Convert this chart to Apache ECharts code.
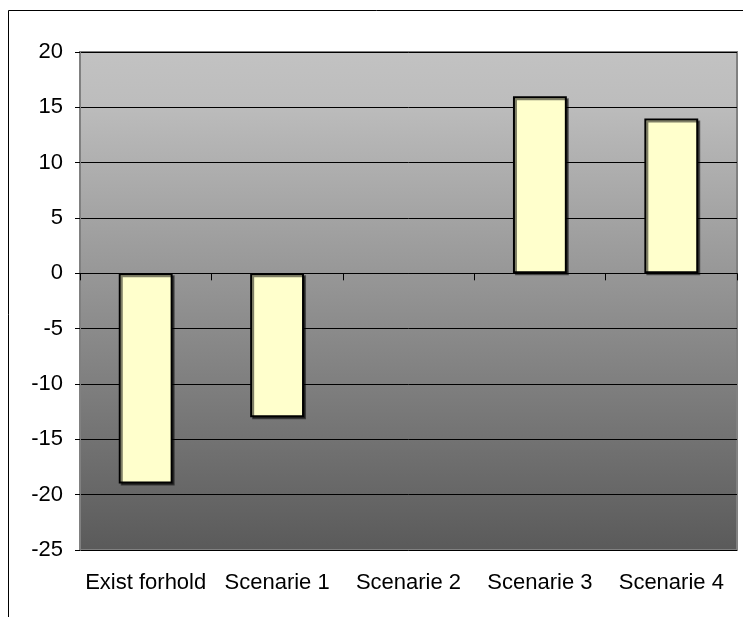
<!DOCTYPE html>
<html>
<head>
<meta charset="utf-8">
<script src="https://cdn.jsdelivr.net/npm/echarts@6/dist/echarts.min.js"></script>
<style>
  html, body { margin: 0; padding: 0; background: #ffffff; }
  #chart { width: 743px; height: 617px; }
</style>
</head>
<body>
<div id="chart"></div>
<script>
// Categories and values for the bar chart
var categories = ['Exist forhold', 'Scenarie 1', 'Scenarie 2', 'Scenarie 3', 'Scenarie 4'];
var values = [-19, -13, 0, 16, 14];
var yMin = -25;
var yMax = 20;
var yStep = 5;

var chart = echarts.init(document.getElementById('chart'), null, { renderer: 'canvas' });

var fontFamily = '"Liberation Sans", Arial, sans-serif';

// Zero-height bars get no outline or shadow
var barData = values.map(function (v) {
  if (v === 0) {
    return { value: v, itemStyle: { borderWidth: 0, shadowColor: 'rgba(0,0,0,0)', color: 'rgba(0,0,0,0)' } };
  }
  return v;
});

chart.setOption({
  animation: false,
  backgroundColor: '#ffffff',
  graphic: [{
    type: 'rect',
    shape: { x: 8.5, y: 10.5, width: 800, height: 700 },
    style: { fill: 'none', stroke: '#000000', lineWidth: 1 },
    silent: true,
    z: -10
  }],
  grid: {
    left: 80,
    top: 52,
    right: 6,
    bottom: 67,
    show: true,
    borderColor: '#808080',
    borderWidth: 2,
    backgroundColor: {
      type: 'linear', x: 0, y: 0, x2: 0, y2: 1,
      colorStops: [
        { offset: 0, color: '#c2c2c2' },
        { offset: 0.1, color: '#bdbdbd' },
        { offset: 1, color: '#5a5a5a' }
      ]
    }
  },
  xAxis: [{
    type: 'category',
    data: categories,
    position: 'bottom',
    axisLine: { show: false, onZero: false },
    axisTick: { show: false },
    axisLabel: {
      color: '#000000',
      fontSize: 22,
      fontFamily: fontFamily,
      margin: 22,
      interval: 0
    },
    splitLine: { show: false }
  }, {
    type: 'category',
    data: categories,
    position: 'top',
    axisLine: { show: true, onZero: true, lineStyle: { color: '#000000', width: 1 } },
    axisTick: { show: true, inside: true, length: 7, lineStyle: { color: '#000000', width: 1 } },
    axisLabel: { show: false },
    splitLine: { show: false }
  }],
  yAxis: {
    type: 'value',
    min: yMin,
    max: yMax,
    interval: yStep,
    axisLine: { show: true, lineStyle: { color: '#808080', width: 2 } },
    axisTick: { show: true, length: 5, lineStyle: { color: '#000000', width: 1 } },
    axisLabel: {
      color: '#000000',
      fontSize: 22,
      fontFamily: fontFamily,
      margin: 17
    },
    splitLine: { show: true, lineStyle: { color: '#000000', width: 1 } }
  },
  series: [{
    type: 'bar',
    xAxisIndex: 0,
    data: barData,
    barWidth: '41%',
    itemStyle: {
      color: '#ffffcc',
      borderColor: '#000000',
      borderWidth: 2,
      shadowColor: 'rgba(0,0,0,0.5)',
      shadowOffsetX: 2,
      shadowOffsetY: 2,
      shadowBlur: 0
    },
    z: 3
  }]
});
</script>
</body>
</html>
